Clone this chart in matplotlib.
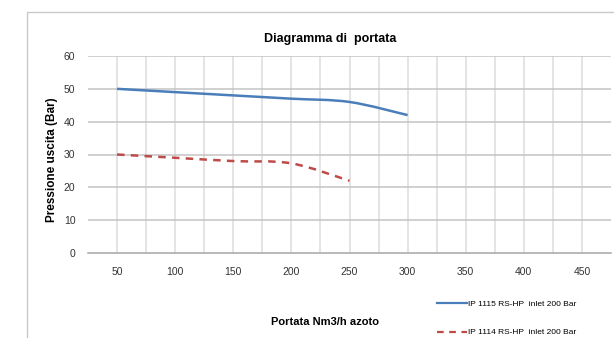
import numpy as np
import matplotlib
matplotlib.use('Agg')
import matplotlib.pyplot as plt
from matplotlib.path import Path
from matplotlib.patches import PathPatch, Rectangle
from matplotlib.lines import Line2D

plt.rcParams['font.family'] = ['Liberation Sans', 'DejaVu Sans']

# data
portata = [50, 100, 150, 200, 250, 300]
ip1115 = [50, 49, 48, 47, 46, 42]
portata_1114 = [50, 100, 150, 200, 250]
ip1114 = [30, 29, 28, 27.3, 22]
xticks = [50, 100, 150, 200, 250, 300, 350, 400, 450]
yticks = [0, 10, 20, 30, 40, 50, 60]

BLUE = '#4a7ebb'
RED = '#be4b48'


def smooth_path(x, y):
    # excel-like smoothed line: catmull-rom segments as cubic bezier
    x = np.asarray(x, float)
    y = np.asarray(y, float)
    pts = np.column_stack([x, y])
    verts = [pts[0]]
    codes = [Path.MOVETO]
    n = len(pts)
    for i in range(n - 1):
        p0 = pts[i - 1] if i > 0 else pts[i]
        p1 = pts[i]
        p2 = pts[i + 1]
        p3 = pts[i + 2] if i + 2 < n else pts[i + 1]
        c1 = p1 + (p2 - p0) / 6.0
        c2 = p2 - (p3 - p1) / 6.0
        verts += [c1, c2, p2]
        codes += [Path.CURVE4] * 3
    return Path(verts, codes)


fig = plt.figure(figsize=(6.14, 3.38), dpi=100)
fig.patches.append(Rectangle((27 / 614, -0.1), 1.0, 1 - 12 / 338 + 0.1,
                             transform=fig.transFigure, fill=False,
                             edgecolor='#c8c8c8', lw=1.0))

ax = fig.add_axes([88 / 614, 1 - 253 / 338, 523 / 614, 197 / 338])
ax.set_xlim(25, 475)
ax.set_ylim(0, 60)

for xv in np.arange(50, 475, 25):
    ax.axvline(xv, color='#dcdcdc', lw=1.1, zorder=1)
for yv in yticks[1:]:
    ax.axhline(yv, color='#c3c3c3', lw=1.1, zorder=1)

ax.add_patch(PathPatch(smooth_path(portata, ip1115), fill=False,
                       edgecolor=BLUE, lw=1.8, zorder=3))
ax.add_patch(PathPatch(smooth_path(portata_1114, ip1114), fill=False,
                       edgecolor=RED, lw=1.8, ls=(0, (3, 2.5)), zorder=3))

for s in ['top', 'right', 'left']:
    ax.spines[s].set_visible(False)
ax.spines['bottom'].set_color('#a6a6a6')
ax.spines['bottom'].set_linewidth(1.1)

ax.set_xticks(xticks)
ax.set_yticks(yticks)
ax.tick_params(length=0, labelsize=7.5, colors='#333333', pad=10)
ax.tick_params(axis='y', pad=9)

fig.text(330 / 614, 1 - 39 / 338, 'Diagramma di  portata', ha='center',
         va='center', fontsize=9, fontweight='bold')
fig.text(52 / 614, 1 - 160 / 338, 'Pressione uscita (Bar)', ha='center',
         va='center', rotation=90, fontsize=8.5, fontweight='bold')
fig.text(325 / 614, 1 - 322 / 338, 'Portata Nm3/h azoto', ha='center',
         va='center', fontsize=8, fontweight='bold')

handles = [Line2D([], [], color=BLUE, lw=1.6),
           Line2D([], [], color=RED, lw=1.6, ls=(0, (3, 2.5)))]
labels = ['IP 1115 RS-HP  inlet 200 Bar', 'IP 1114 RS-HP  inlet 200 Bar']
fig.legend(handles, labels, loc='upper left',
           bbox_to_anchor=(437 / 614, 1 - 300 / 338), frameon=False,
           fontsize=6, handlelength=3.6, handletextpad=0.1,
           labelspacing=2.5, borderaxespad=0, borderpad=0)

fig.savefig('out.png', dpi=100)
